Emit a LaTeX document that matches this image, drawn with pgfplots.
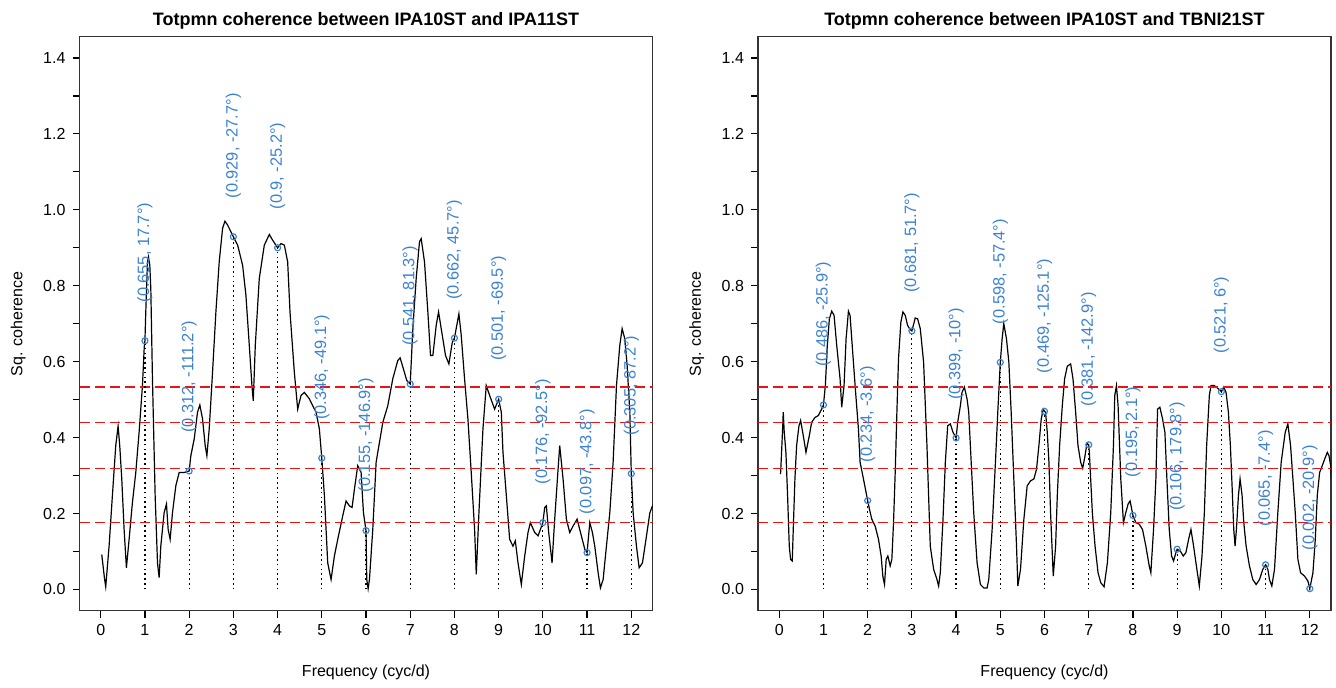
\documentclass[border=0pt]{standalone}
\usepackage{fontspec}
\setmainfont{Liberation Sans}
\usepackage{pgfplots}
\pgfplotsset{compat=1.18}
\definecolor{lblue}{RGB}{60,130,210}
\definecolor{thr}{RGB}{235,20,20}
\pgfplotsset{cohstyle/.style={
  scale only axis, width=286.5pt, height=287pt,
  xmin=-0.48, xmax=12.48, ymin=-0.056, ymax=1.456,
  xtick={0,1,2,3,4,5,6,7,8,9,10,11,12},
  ytick={0,0.1,0.2,0.3,0.4,0.5,0.6,0.7,0.8,0.9,1.0,1.1,1.2,1.3,1.4},
  yticklabels={0.0,,0.2,,0.4,,0.6,,0.8,,1.0,,1.2,,1.4},
  tick align=outside, xtick pos=bottom, ytick pos=left,
  major tick length=3.5pt,
  tick style={black, line width=0.6pt},
  axis line style={line width=0.6pt, black!80},
  /pgf/number format/assume math mode=true,
  ticklabel style={font=\fontsize{8}{9}\selectfont},
  xlabel={Frequency (cyc/d)}, ylabel={Sq. coherence},
  label style={font=\fontsize{8}{9}\selectfont},
  xlabel style={at={(axis description cs:0.5,-0.107)}, anchor=center},
  ylabel style={at={(axis description cs:-0.107,0.5)}, anchor=center},
  title style={at={(axis description cs:0.5,1.006)}, anchor=center, font=\bfseries\fontsize{9}{10}\selectfont},
  clip=true,
}}
\newcommand{\lab}[3]{\node[rotate=90, anchor=west, inner sep=0pt, text=lblue, font=\fontsize{8.2}{9}\selectfont] at (axis cs:#1,#2+0.1) {#3};}
\begin{document}
\begin{tikzpicture}
\useasboundingbox (0,0) rectangle (668pt,344pt);
% ---------------- left panel
\begin{axis}[cohstyle, at={(39.75pt,38.65pt)}, anchor=south west,
  title={Totpmn coherence between IPA10ST and IPA11ST}]
\addplot[color=black, line width=0.6pt] coordinates {
(0.023,0.092)(0.053,0.062)(0.083,0.031)(0.113,0.007)(0.189,0.114)(0.264,0.247)(0.340,0.379)(0.393,0.430)(0.430,0.379)(0.476,0.291)(0.529,0.158)(0.581,0.057)(0.642,0.132)(0.717,0.229)(0.793,0.308)(0.868,0.414)(0.944,0.537)(0.985,0.640)(1.000,0.655)(1.019,0.731)(1.057,0.863)(1.080,0.876)(1.110,0.854)(1.133,0.792)(1.170,0.555)(1.231,0.247)(1.284,0.070)(1.321,0.031)(1.359,0.114)(1.434,0.202)(1.487,0.225)(1.525,0.158)(1.570,0.132)(1.623,0.202)(1.699,0.273)(1.774,0.308)(1.888,0.308)(2.000,0.312)(2.038,0.352)(2.114,0.396)(2.190,0.467)(2.242,0.486)(2.303,0.449)(2.363,0.379)(2.401,0.352)(2.454,0.423)(2.529,0.572)(2.605,0.731)(2.680,0.863)(2.756,0.951)(2.809,0.970)(2.869,0.960)(3.000,0.929)(3.096,0.907)(3.209,0.854)(3.284,0.775)(3.360,0.643)(3.420,0.537)(3.450,0.497)(3.496,0.643)(3.586,0.819)(3.700,0.907)(3.813,0.935)(3.888,0.920)(4.000,0.900)(4.077,0.911)(4.153,0.907)(4.228,0.863)(4.281,0.731)(4.379,0.572)(4.455,0.475)(4.530,0.511)(4.606,0.519)(4.719,0.502)(4.794,0.484)(4.870,0.467)(4.945,0.423)(5.000,0.346)(5.059,0.247)(5.134,0.070)(5.210,0.026)(5.285,0.088)(5.361,0.132)(5.474,0.194)(5.549,0.233)(5.625,0.220)(5.685,0.216)(5.738,0.264)(5.813,0.326)(5.889,0.308)(5.942,0.202)(6.000,0.155)(6.017,0.026)(6.048,0.002)(6.078,0.026)(6.153,0.158)(6.229,0.335)(6.380,0.440)(6.493,0.484)(6.606,0.555)(6.719,0.603)(6.772,0.610)(6.833,0.586)(6.923,0.550)(7.000,0.541)(7.059,0.687)(7.135,0.819)(7.210,0.916)(7.248,0.924)(7.323,0.863)(7.399,0.731)(7.459,0.616)(7.512,0.616)(7.588,0.696)(7.641,0.731)(7.701,0.687)(7.799,0.616)(7.875,0.594)(7.950,0.650)(8.000,0.662)(8.101,0.726)(8.154,0.669)(8.229,0.555)(8.305,0.449)(8.380,0.308)(8.456,0.158)(8.494,0.040)(8.554,0.202)(8.645,0.423)(8.720,0.537)(8.796,0.511)(8.909,0.475)(9.000,0.501)(9.060,0.467)(9.098,0.361)(9.174,0.247)(9.249,0.132)(9.324,0.114)(9.377,0.128)(9.438,0.070)(9.513,0.013)(9.589,0.088)(9.664,0.150)(9.717,0.176)(9.815,0.150)(9.891,0.141)(10.000,0.176)(10.042,0.216)(10.079,0.220)(10.132,0.150)(10.208,0.070)(10.268,0.185)(10.329,0.291)(10.381,0.379)(10.457,0.291)(10.532,0.185)(10.608,0.150)(10.683,0.167)(10.774,0.185)(10.834,0.158)(10.948,0.106)(11.000,0.097)(11.061,0.176)(11.121,0.150)(11.174,0.114)(11.250,0.044)(11.302,0.004)(11.363,0.026)(11.438,0.114)(11.514,0.202)(11.589,0.335)(11.665,0.537)(11.740,0.643)(11.793,0.687)(11.854,0.660)(11.906,0.590)(11.967,0.467)(12.000,0.305)(12.042,0.202)(12.117,0.114)(12.178,0.057)(12.253,0.070)(12.344,0.141)(12.420,0.202)(12.495,0.225)(12.533,0.211)
};
\addplot[color=thr, line width=0.8pt, dash pattern=on 5pt off 2.5pt] coordinates {(-0.48,0.534) (12.48,0.534)};
\addplot[color=thr, line width=0.8pt, dash pattern=on 5pt off 2.5pt] coordinates {(-0.48,0.440) (12.48,0.440)};
\addplot[color=thr, line width=0.8pt, dash pattern=on 5pt off 2.5pt] coordinates {(-0.48,0.319) (12.48,0.319)};
\addplot[color=thr, line width=0.8pt, dash pattern=on 5pt off 2.5pt] coordinates {(-0.48,0.176) (12.48,0.176)};
\addplot[ycomb, color=black, line width=0.6pt, dash pattern=on 0.8pt off 1.6pt] coordinates {
(1,0.655)(2,0.312)(3,0.929)(4,0.9)(5,0.346)(6,0.155)(7,0.541)(8,0.662)(9,0.501)(10,0.176)(11,0.097)(12,0.305)};
\addplot[only marks, mark=o, mark size=1.5pt, color=lblue, mark options={line width=0.6pt}] coordinates {
(1,0.655)(2,0.312)(3,0.929)(4,0.9)(5,0.346)(6,0.155)(7,0.541)(8,0.662)(9,0.501)(10,0.176)(11,0.097)(12,0.305)};
\lab{1}{0.655}{(0.655, 17.7°)}
\lab{2}{0.312}{(0.312, -111.2°)}
\lab{3}{0.929}{(0.929, -27.7°)}
\lab{4}{0.9}{(0.9, -25.2°)}
\lab{5}{0.346}{(0.346, -49.1°)}
\lab{6}{0.155}{(0.155, -146.9°)}
\lab{7}{0.541}{(0.541, 81.3°)}
\lab{8}{0.662}{(0.662, 45.7°)}
\lab{9}{0.501}{(0.501, -69.5°)}
\lab{10}{0.176}{(0.176, -92.5°)}
\lab{11}{0.097}{(0.097, -43.8°)}
\lab{12}{0.305}{(0.305, 87.2°)}
\end{axis}
% ---------------- right panel
\begin{axis}[cohstyle, at={(379pt,38.65pt)}, anchor=south west,
  title={Totpmn coherence between IPA10ST and TBNI21ST}]
\addplot[color=black, line width=0.6pt] coordinates {
(0.030,0.304)(0.053,0.361)(0.076,0.423)(0.091,0.467)(0.113,0.414)(0.151,0.361)(0.189,0.247)(0.227,0.114)(0.257,0.079)(0.295,0.075)(0.317,0.158)(0.355,0.291)(0.393,0.379)(0.446,0.431)(0.484,0.445)(0.544,0.405)(0.605,0.361)(0.680,0.405)(0.733,0.440)(0.809,0.453)(0.884,0.458)(0.960,0.475)(1.000,0.486)(1.043,0.537)(1.088,0.643)(1.134,0.713)(1.187,0.733)(1.240,0.722)(1.300,0.643)(1.376,0.555)(1.413,0.480)(1.466,0.537)(1.512,0.660)(1.565,0.733)(1.602,0.722)(1.640,0.660)(1.716,0.537)(1.791,0.423)(1.829,0.335)(1.905,0.291)(2.000,0.234)(2.041,0.211)(2.094,0.185)(2.169,0.167)(2.245,0.132)(2.305,0.088)(2.343,0.035)(2.381,0.013)(2.419,0.079)(2.457,0.088)(2.509,0.062)(2.547,0.079)(2.585,0.176)(2.623,0.308)(2.661,0.467)(2.698,0.608)(2.751,0.704)(2.797,0.731)(2.850,0.722)(2.902,0.696)(2.955,0.685)(3.000,0.681)(3.076,0.715)(3.129,0.713)(3.190,0.687)(3.265,0.599)(3.341,0.379)(3.416,0.114)(3.492,0.053)(3.568,0.026)(3.605,0.009)(3.643,0.044)(3.704,0.185)(3.757,0.335)(3.810,0.431)(3.870,0.436)(3.930,0.414)(4.000,0.399)(4.036,0.440)(4.097,0.484)(4.134,0.519)(4.187,0.533)(4.248,0.502)(4.286,0.467)(4.323,0.379)(4.399,0.202)(4.475,0.070)(4.550,0.013)(4.626,0.004)(4.701,0.004)(4.739,0.026)(4.815,0.158)(4.890,0.335)(4.943,0.467)(5.000,0.598)(5.041,0.660)(5.079,0.700)(5.140,0.660)(5.193,0.599)(5.246,0.467)(5.306,0.291)(5.367,0.114)(5.397,0.009)(5.457,0.053)(5.533,0.185)(5.608,0.273)(5.684,0.286)(5.760,0.291)(5.820,0.317)(5.873,0.379)(5.926,0.449)(5.971,0.475)(6.000,0.469)(6.024,0.467)(6.062,0.414)(6.100,0.335)(6.137,0.202)(6.175,0.097)(6.198,0.035)(6.251,0.114)(6.289,0.247)(6.342,0.379)(6.402,0.484)(6.455,0.555)(6.515,0.588)(6.591,0.594)(6.644,0.555)(6.704,0.467)(6.757,0.379)(6.818,0.335)(6.863,0.319)(6.916,0.352)(6.960,0.385)(7.000,0.381)(7.015,0.360)(7.044,0.291)(7.082,0.202)(7.143,0.114)(7.211,0.044)(7.271,0.018)(7.347,0.007)(7.422,0.070)(7.498,0.202)(7.559,0.379)(7.589,0.511)(7.627,0.537)(7.664,0.484)(7.725,0.291)(7.785,0.176)(7.838,0.202)(7.891,0.225)(7.936,0.233)(8.000,0.195)(8.065,0.176)(8.141,0.172)(8.216,0.158)(8.292,0.114)(8.368,0.062)(8.405,0.044)(8.466,0.158)(8.519,0.291)(8.557,0.475)(8.609,0.480)(8.670,0.449)(8.723,0.414)(8.768,0.291)(8.821,0.158)(8.874,0.088)(8.919,0.075)(8.972,0.097)(9.000,0.106)(9.070,0.101)(9.138,0.088)(9.198,0.097)(9.259,0.132)(9.312,0.158)(9.372,0.114)(9.425,0.070)(9.501,0.009)(9.562,0.088)(9.615,0.202)(9.667,0.379)(9.728,0.511)(9.766,0.537)(9.841,0.537)(9.917,0.530)(10.000,0.521)(10.053,0.533)(10.106,0.519)(10.159,0.467)(10.204,0.379)(10.242,0.273)(10.280,0.158)(10.310,0.114)(10.340,0.158)(10.386,0.247)(10.423,0.291)(10.469,0.247)(10.507,0.176)(10.560,0.114)(10.635,0.062)(10.711,0.026)(10.786,0.013)(10.862,0.026)(10.937,0.053)(11.000,0.065)(11.051,0.053)(11.088,0.026)(11.141,0.009)(11.202,0.053)(11.277,0.202)(11.353,0.335)(11.444,0.414)(11.504,0.436)(11.565,0.379)(11.618,0.291)(11.671,0.202)(11.731,0.079)(11.791,0.044)(11.882,0.035)(11.958,0.022)(12.000,0.002)(12.071,0.044)(12.124,0.132)(12.169,0.247)(12.222,0.308)(12.282,0.326)(12.335,0.343)(12.396,0.361)(12.434,0.352)(12.472,0.326)(12.487,0.291)
};
\addplot[color=thr, line width=0.8pt, dash pattern=on 5pt off 2.5pt] coordinates {(-0.48,0.534) (12.48,0.534)};
\addplot[color=thr, line width=0.8pt, dash pattern=on 5pt off 2.5pt] coordinates {(-0.48,0.440) (12.48,0.440)};
\addplot[color=thr, line width=0.8pt, dash pattern=on 5pt off 2.5pt] coordinates {(-0.48,0.319) (12.48,0.319)};
\addplot[color=thr, line width=0.8pt, dash pattern=on 5pt off 2.5pt] coordinates {(-0.48,0.176) (12.48,0.176)};
\addplot[ycomb, color=black, line width=0.6pt, dash pattern=on 0.8pt off 1.6pt] coordinates {
(1,0.486)(2,0.234)(3,0.681)(4,0.399)(5,0.598)(6,0.469)(7,0.381)(8,0.195)(9,0.106)(10,0.521)(11,0.065)(12,0.002)};
\addplot[only marks, mark=o, mark size=1.5pt, color=lblue, mark options={line width=0.6pt}] coordinates {
(1,0.486)(2,0.234)(3,0.681)(4,0.399)(5,0.598)(6,0.469)(7,0.381)(8,0.195)(9,0.106)(10,0.521)(11,0.065)(12,0.002)};
\lab{1}{0.486}{(0.486, -25.9°)}
\lab{2}{0.234}{(0.234, -3.6°)}
\lab{3}{0.681}{(0.681, 51.7°)}
\lab{4}{0.399}{(0.399, -10°)}
\lab{5}{0.598}{(0.598, -57.4°)}
\lab{6}{0.469}{(0.469, -125.1°)}
\lab{7}{0.381}{(0.381, -142.9°)}
\lab{8}{0.195}{(0.195, 2.1°)}
\lab{9}{0.106}{(0.106, 179.8°)}
\lab{10}{0.521}{(0.521, 6°)}
\lab{11}{0.065}{(0.065, -7.4°)}
\lab{12}{0.002}{(0.002, -20.9°)}
\end{axis}
\end{tikzpicture}
\end{document}
